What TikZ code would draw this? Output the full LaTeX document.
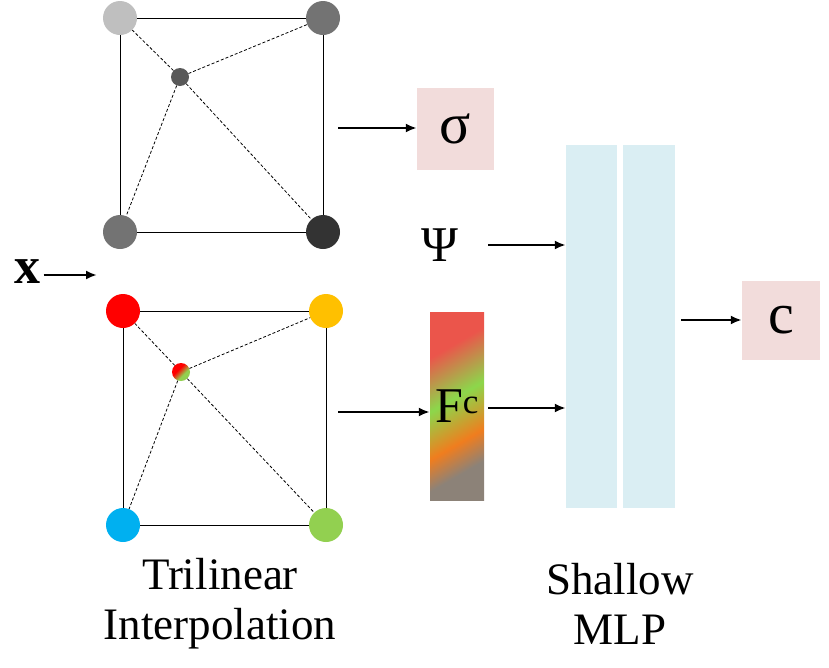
\documentclass[tikz,border=0pt]{standalone}
\usepackage{fontspec}
\setmainfont{Liberation Serif}
\usetikzlibrary{positioning,arrows.meta}
\definecolor{boxpink}{RGB}{242,220,219}
\definecolor{mlpblue}{RGB}{218,238,243}
\definecolor{amber}{RGB}{255,192,0}
\definecolor{skyblue}{RGB}{0,176,240}
\definecolor{leafgreen}{RGB}{146,208,80}
\definecolor{fcred}{RGB}{235,85,75}
\definecolor{fcgreen}{RGB}{140,215,75}
\definecolor{fcorange}{RGB}{240,125,30}
\definecolor{fcgray}{RGB}{140,130,120}
\pgfdeclarehorizontalshading{fcgrad}{100bp}{color(0bp)=(fcred); color(30bp)=(fcred); color(47bp)=(fcgreen); color(62bp)=(fcorange); color(72bp)=(fcgray); color(100bp)=(fcgray)}
\pgfdeclarehorizontalshading{dotgrad}{100bp}{color(0bp)=(red); color(40bp)=(red); color(60bp)=(leafgreen); color(100bp)=(leafgreen)}
\tikzset{
  vert/.style={circle, inner sep=0pt, minimum size=34pt},
  arr/.style={-{Latex[length=11pt,width=9pt]}, line width=2.2pt},
  lbl/.style={font=\fontsize{45}{50}\selectfont},
  sym/.style={font=\fontsize{58}{60}\selectfont},
}
\begin{document}
\begin{tikzpicture}[x=1pt,y=-1pt]
  \useasboundingbox (0,0) rectangle (829,667);
  % density grid (top) and colour grid (bottom)
  \foreach \name/\ox/\oy/\ca/\cb/\cc/\cd in {d/120/18/black!25/black!55/black!55/black!80, c/123/311/red/amber/skyblue/leafgreen} {%
    \draw[line width=1pt] (\ox,\oy) rectangle ++(203,214);
    \node[vert, fill=\ca] (\name tl) at (\ox,\oy) {};
    \node[vert, fill=\cb] (\name tr) at (\ox+203,\oy) {};
    \node[vert, fill=\cc] (\name bl) at (\ox,\oy+214) {};
    \node[vert, fill=\cd] (\name br) at (\ox+203,\oy+214) {};
  }
  \node[circle, inner sep=0pt, minimum size=18pt, fill=black!65] (dp) at (180,77) {};
  \node[circle, inner sep=0pt, minimum size=18pt, shading=dotgrad, shading angle=-45] (cp) at (181,372) {};
  \foreach \p/\g in {dp/d, cp/c} {%
    \foreach \k in {tl,tr,bl,br}
      \draw[densely dashed, line width=0.8pt] (\p) -- (\g\k);
  }
  % input
  \node[font=\bfseries\fontsize{52}{56}\selectfont] (x) at (27,272) {x};
  \coordinate (xe) at (97,275);
  \draw[arr] (x.east |- xe) -- (xe);
  % outputs of interpolation
  \node[fill=boxpink, minimum width=77pt, minimum height=82pt, sym, inner sep=0pt] (sigma) at (455.5,129) {σ};
  \coordinate (sa) at (338,128);
  \draw[arr] (sa) -- (sigma.west |- sa);
  \node[shading=fcgrad, shading angle=-60, minimum width=54pt, minimum height=188pt, inner sep=0pt] (fc) at (457,406) {};
  \node[font=\fontsize{50}{54}\selectfont] at (fc) {F\textsuperscript{c}};
  \coordinate (fa) at (338,412);
  \draw[arr] (fa) -- (fc.west |- fa);
  % shallow MLP
  \node[fill=mlpblue, minimum width=51pt, minimum height=363pt, inner sep=0pt] (m1) at (591.5,326.5) {};
  \node[fill=mlpblue, minimum width=52pt, minimum height=363pt, inner sep=0pt] (m2) at (649,326.5) {};
  \node[font=\fontsize{50}{54}\selectfont, inner sep=0pt] (psi) at (440,245) {Ψ};
  \coordinate (po) at (488,245);
  \draw[arr] (po) -- (m1.west |- po);
  \coordinate (fo) at (488,408);
  \draw[arr] (fo) -- (m1.west |- fo);
  \node[fill=boxpink, minimum width=78pt, minimum height=79pt, sym, inner sep=0pt] (c) at (781,320.5) {c};
  \coordinate (mo) at (681,320);
  \draw[arr] (mo) -- (c.west |- mo);
  % captions
  \node[lbl, align=center] (tri) at (220,604) {Trilinear\\Interpolation};
  \node[lbl, align=center] (mlp) at (620,604) {Shallow\\MLP};
\end{tikzpicture}
\end{document}
